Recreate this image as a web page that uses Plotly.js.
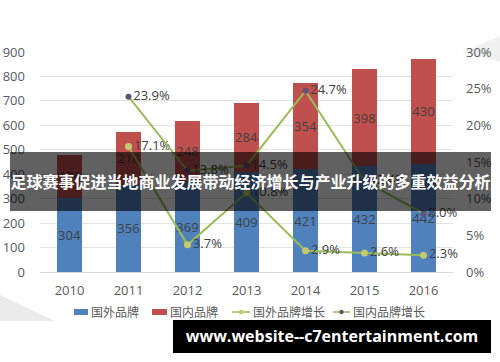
<!DOCTYPE html>
<html>
<head>
<meta charset="utf-8">
<script src="https://cdn.plot.ly/plotly-3.0.1.min.js"></script>
<style>
html,body{margin:0;padding:0;background:#fff;}
#wrap{position:relative;width:500px;height:362px;overflow:hidden;}
#chart{position:absolute;left:0;top:0;width:500px;height:362px;}
#banner{position:absolute;left:10px;top:152px;width:481px;height:59px;background:rgba(0,0,0,0.62);
  color:#fff;font-family:"Noto Sans CJK SC",sans-serif;font-weight:bold;font-size:16px;line-height:59px;text-align:center;white-space:nowrap;pointer-events:none;}
#mark{position:absolute;left:173px;top:320px;width:318px;height:33px;background:#000;color:#fff;
  font-family:"Open Sans",sans-serif;font-weight:bold;font-size:16px;line-height:33px;text-align:center;white-space:nowrap;pointer-events:none;}
</style>
</head>
<body>
<div id="wrap">
<div id="chart"></div>
<div id="banner">足球赛事促进当地商业发展带动经济增长与产业升级的多重效益分析</div>
<div id="mark">www.website--c7entertainment.com</div>
</div>
<script>
var years = ['2010','2011','2012','2013','2014','2015','2016'];
var foreignBrand = [304, 356, 369, 409, 421, 432, 442];
var domesticBrand = [176, 218, 248, 284, 354, 398, 430];
var foreignGrowth = [null, 0.171, 0.037, 0.108, 0.029, 0.026, 0.023];
var domesticGrowth = [null, 0.239, 0.138, 0.145, 0.247, 0.124, 0.080];
var seriesNames = ['国外品牌', '国内品牌', '国外品牌增长', '国内品牌增长'];

var colBlue = '#4F81BD', colRed = '#C0504D', colGreen = '#9BBB59', colGMark = '#C4C96B', colDMark = '#5F5478';

function pct(a){return a.map(function(v){return v==null?'':(v*100).toFixed(1)+'%';});}
// pixel -> paper helpers (plot area: x 40..453, y 52..272)
function px(x){return (x-40)/413;}
function py(y){return (272-y)/220;}

var font = '"Open Sans","Noto Sans CJK SC",sans-serif';
var labelFont = {family: font, size: 13, color: '#404040'};

var traces = [
  {type:'bar', name:seriesNames[0], x:years, y:foreignBrand, marker:{color:colBlue},
   text:foreignBrand.map(String), textposition:'inside', insidetextanchor:'middle', textangle:0,
   constraintext:'none', textfont:labelFont, width:0.41, hoverinfo:'skip'},
  {type:'bar', name:seriesNames[1], x:years, y:domesticBrand, marker:{color:colRed},
   text:domesticBrand.map(String), textposition:'inside', insidetextanchor:'middle', textangle:0,
   constraintext:'none', textfont:labelFont, width:0.41, hoverinfo:'skip'},
  {type:'scatter', mode:'lines+markers+text', name:seriesNames[2], x:years, y:foreignGrowth, yaxis:'y2',
   line:{color:colGreen, width:2}, marker:{color:colGMark, size:7},
   text:pct(foreignGrowth), textposition:'middle right', textfont:labelFont, cliponaxis:false, hoverinfo:'skip'},
  {type:'scatter', mode:'lines+markers+text', name:seriesNames[3], x:years, y:domesticGrowth, yaxis:'y2',
   line:{color:colGreen, width:2}, marker:{color:colDMark, size:6},
   text:pct(domesticGrowth), textposition:'middle right', textfont:labelFont, cliponaxis:false, hoverinfo:'skip'}
];

// custom legend (matches the compact Excel-style legend)
var legY = 312;
var legendItems = [
  {kind:'rect', color:colBlue, x0:74, x1:88, tx:89, label:seriesNames[0]},
  {kind:'rect', color:colRed, x0:152, x1:167, tx:168, label:seriesNames[1]},
  {kind:'line', color:colGreen, mcolor:colGMark, x0:232, x1:250, tx:251, label:seriesNames[2]},
  {kind:'line', color:colGreen, mcolor:colDMark, x0:333, x1:350, tx:351, label:seriesNames[3]}
];
var shapes = [
  {type:'path', xref:'paper', yref:'paper',
   path:'M '+px(0)+' '+py(295)+' L '+px(0)+' '+py(321)+' L '+px(55)+' '+py(321)+' Z',
   fillcolor:'#ebebeb', line:{width:0}, layer:'below'},
  {type:'path', xref:'paper', yref:'paper',
   path:'M '+px(462)+' '+py(52)+' L '+px(500)+' '+py(36)+' L '+px(500)+' '+py(62)+' Z',
   fillcolor:'#f0f0f0', line:{width:0}, layer:'below'}
];
var annotations = [];
legendItems.forEach(function(it){
  if(it.kind==='rect'){
    shapes.push({type:'rect', xref:'paper', yref:'paper', x0:px(it.x0), x1:px(it.x1),
      y0:py(legY+3), y1:py(legY-3), fillcolor:it.color, line:{width:0}});
  } else {
    shapes.push({type:'line', xref:'paper', yref:'paper', x0:px(it.x0), x1:px(it.x1),
      y0:py(legY), y1:py(legY), line:{color:it.color, width:1.5}});
    var cx = (it.x0+it.x1)/2;
    shapes.push({type:'circle', xref:'paper', yref:'paper', x0:px(cx-2.2), x1:px(cx+2.2),
      y0:py(legY+2.2), y1:py(legY-2.2), fillcolor:it.mcolor, line:{width:0}});
  }
  annotations.push({xref:'paper', yref:'paper', x:px(it.tx), y:py(legY), xanchor:'left', yanchor:'middle',
    text:it.label, showarrow:false, font:{family:font, size:12, color:'#595959'}});
});

var layout = {
  width:500, height:362,
  margin:{l:40, r:47, t:52, b:90},
  paper_bgcolor:'#ffffff', plot_bgcolor:'#ffffff',
  barmode:'stack',
  font:{family:font, size:13, color:'#595959'},
  showlegend:false,
  xaxis:{type:'category', range:[-0.5,6.5], showgrid:false, zeroline:false, showline:true,
         linecolor:'#d9d9d9', linewidth:1, ticks:'', tickfont:{size:13, color:'#595959'}, ticklabelstandoff:6},
  yaxis:{range:[0,900], dtick:100, showgrid:true, gridcolor:'#e3e3e3', gridwidth:1, zeroline:false,
         showline:false, ticks:'', tickfont:{size:13, color:'#595959'}, ticklabelstandoff:14},
  yaxis2:{range:[0,0.3], dtick:0.05, tickformat:'.0%', overlaying:'y', side:'right', showgrid:false,
          zeroline:false, showline:false, ticks:'', tickfont:{size:13, color:'#595959'}, ticklabelstandoff:12},
  shapes:shapes,
  annotations:annotations
};

Plotly.newPlot('chart', traces, layout, {staticPlot:true, displayModeBar:false});
</script>
</body>
</html>
